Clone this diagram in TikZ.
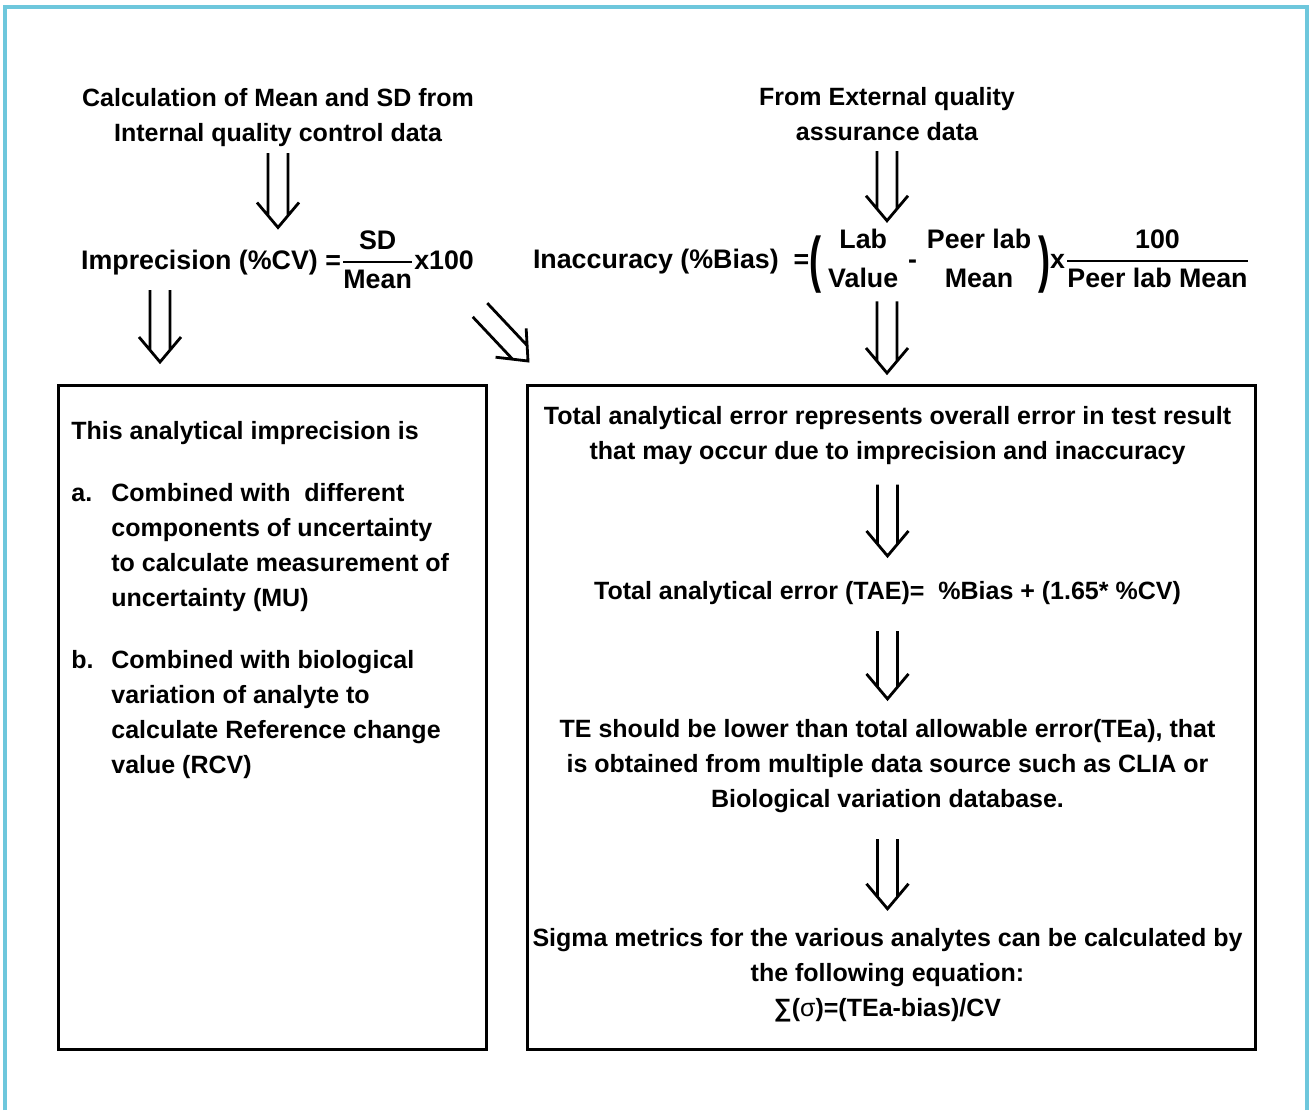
\documentclass[tikz,border=0pt]{standalone}
\usepackage{fontspec}
\usepackage{amsmath}
\usepackage{graphicx}
\setmainfont{Liberation Sans}
\usetikzlibrary{calc}

\definecolor{framecyan}{RGB}{110,199,220}
\newcommand{\frc}[2]{\genfrac{}{}{1pt}{0}{\mbox{#1}}{\mbox{#2}}}
\newcommand{\stk}[2]{\genfrac{}{}{0pt}{0}{\mbox{#1}}{\mbox{#2}}}
\newcommand{\paren}[1]{\raisebox{-0.45em}{\scalebox{1.35}[2.3]{#1}}}

\tikzset{
  txt/.style={font=\fontsize{12.5}{17.5}\selectfont\bfseries, inner sep=0pt},
  formula/.style={font=\fontsize{13.4}{18}\selectfont\bfseries, inner sep=0pt},
  box/.style={draw, line width=1.4pt, inner sep=0pt},
  frame/.style={draw=framecyan, line width=2pt},
  dblarrow/.style={line width=1.4pt, line join=miter, to path={
    ($(\tikztostart)!5pt!90:(\tikztotarget)$) -- ($($(\tikztotarget)!6pt!(\tikztostart)$)!5pt!90:(\tikztotarget)$)
    ($(\tikztostart)!5pt!-90:(\tikztotarget)$) -- ($($(\tikztotarget)!6pt!(\tikztostart)$)!5pt!-90:(\tikztotarget)$)
    ($($(\tikztotarget)!12.5pt!(\tikztostart)$)!10.5pt!90:(\tikztotarget)$) -- (\tikztotarget)
      -- ($($(\tikztotarget)!12.5pt!(\tikztostart)$)!10.5pt!-90:(\tikztotarget)$)}}
}

\begin{document}
\begin{tikzpicture}[x=0.5pt,y=-0.5pt]
  \useasboundingbox (0,0) rectangle (1312,1110);
  \draw[frame] (5,1110) -- (5,7) -- (1307,7) -- (1307,1110);
  % top row
  \node(calc)[txt,align=center] at (278,117.5){Calculation of Mean and SD from\\Internal quality control data};
  \node(ext)[txt,align=center] at (887,114){From External quality\\assurance data};
  \node(imp)[formula] at (277.5,260){Imprecision (\%CV) =$\frc{SD}{Mean}$x100};
  \node(bias)[formula] at (891.5,261){Inaccuracy (\%Bias)\ \ =\paren{(}\,$\stk{Lab}{Value}$\ -\ $\stk{Peer lab}{Mean}$\,\paren{)}x$\frc{100}{Peer lab Mean}$};
  % boxes
  \node(lbox)[box,anchor=north west,minimum width=214pt,minimum height=332pt] at (57,384){};
  \node(rbox)[box,anchor=north west,minimum width=364pt,minimum height=332pt] at (526,384){};
  % left box text
  \node(imptxt)[txt,anchor=north west] at (71,415){\begin{tabular}{@{}p{20pt}@{}l@{}}
    \multicolumn{2}{@{}l@{}}{This analytical imprecision is}\\[13.5pt]
    a. & Combined with\ \ different\\
       & components of uncertainty\\
       & to calculate measurement of\\
       & uncertainty (MU)\\[13.5pt]
    b. & Combined with biological\\
       & variation of analyte to\\
       & calculate Reference change\\
       & value (RCV)
  \end{tabular}};
  % right box text
  \node(tdef)[txt,align=center] at (887.5,436){Total analytical error represents overall error in test result\\that may occur due to imprecision and inaccuracy};
  \node(tae)[txt] at (887.5,593){Total analytical error (TAE)=\ \ \%Bias + (1.65* \%CV)};
  \node(tea)[txt,align=center] at (887.5,766){TE should be lower than total allowable error(TEa), that\\is obtained from multiple data source such as CLIA or\\Biological variation database.};
  \node(sig)[txt,align=center] at (887.5,975){Sigma metrics for the various analytes can be calculated by\\the following equation:\\∑({\mdseries σ})=(TEa-bias)/CV};
  % arrows
  \draw[dblarrow] ([yshift=-3pt]calc.south) to ([yshift=1.5pt]calc.south |- imp.north);
  \draw[dblarrow] ([yshift=-5pt]ext.south) to ([yshift=4pt]ext.south |- bias.north);
  \coordinate (a3) at (160,290);
  \draw[dblarrow] (a3) to ([yshift=11pt]a3 |- lbox.north);
  \coordinate (a4) at (480,310);
  \draw[dblarrow] (a4) to ([xshift=1pt,yshift=11.5pt]rbox.north west);
  \draw[dblarrow] ([yshift=-4pt]ext.south |- bias.south) to ([yshift=5.5pt]ext.south |- rbox.north);
  \draw[dblarrow] ([yshift=-9.5pt]tdef.south) to ([yshift=12.5pt]tae.north);
  \draw[dblarrow] ([yshift=-13pt]tae.south) to ([yshift=10pt]tea.north);
  \draw[dblarrow] ([yshift=-13pt]tea.south) to ([yshift=9.5pt]sig.north);
\end{tikzpicture}
\end{document}
